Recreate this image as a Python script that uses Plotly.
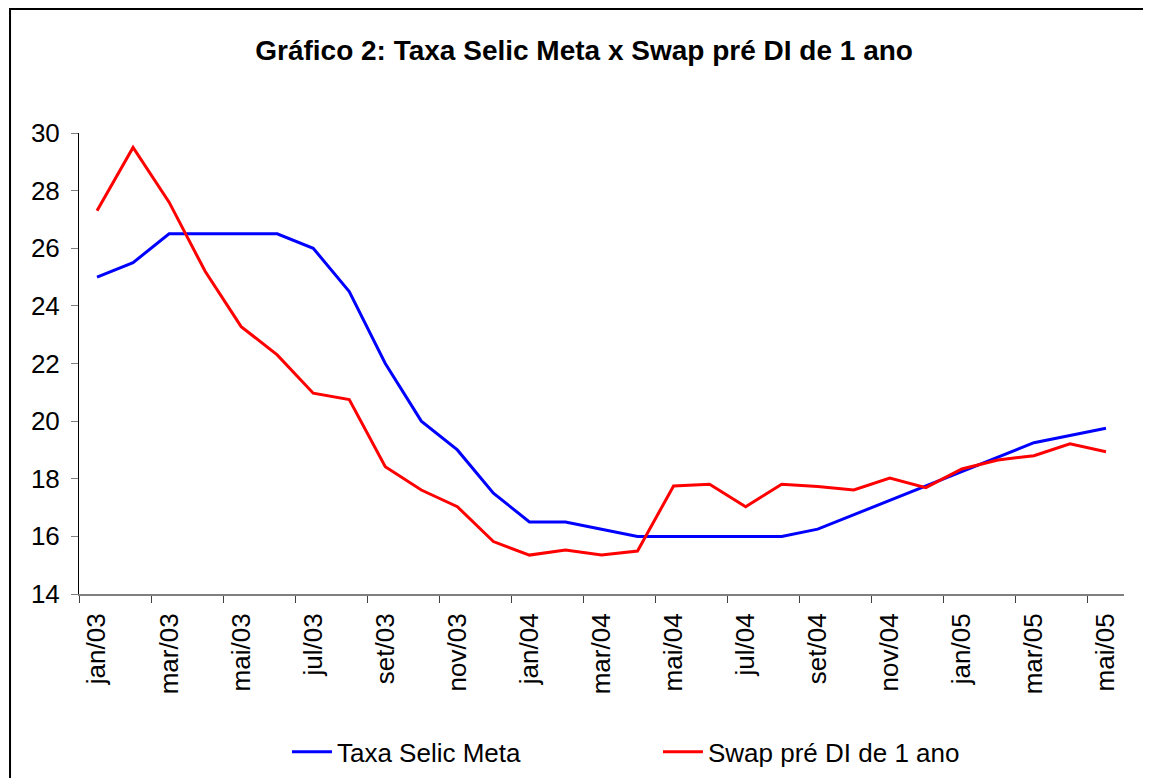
import plotly.graph_objects as go

months = ["jan/03", "fev/03", "mar/03", "abr/03", "mai/03", "jun/03", "jul/03", "ago/03",
          "set/03", "out/03", "nov/03", "dez/03", "jan/04", "fev/04", "mar/04", "abr/04",
          "mai/04", "jun/04", "jul/04", "ago/04", "set/04", "out/04", "nov/04", "dez/04",
          "jan/05", "fev/05", "mar/05", "abr/05", "mai/05"]

selic = [25.0, 25.5, 26.5, 26.5, 26.5, 26.5, 26.0, 24.5, 22.0, 20.0, 19.0, 17.5,
         16.5, 16.5, 16.25, 16.0, 16.0, 16.0, 16.0, 16.0, 16.25, 16.75, 17.25, 17.75,
         18.25, 18.75, 19.25, 19.5, 19.75]

swap = [27.3, 29.5, 27.6, 25.2, 23.28, 22.3, 20.97, 20.75, 18.42, 17.61, 17.03, 15.82,
        15.35, 15.53, 15.35, 15.49, 17.75, 17.81, 17.03, 17.81, 17.73, 17.61, 18.02, 17.69,
        18.34, 18.65, 18.8, 19.21, 18.94]

y_ticks = [14, 16, 18, 20, 22, 24, 26, 28, 30]

x_idx = list(range(len(months)))
label_idx = x_idx[::2]
label_txt = months[::2]
boundaries = [i - 0.5 for i in x_idx[::2]]

fig = go.Figure()
fig.add_trace(go.Scatter(x=x_idx, y=selic, mode="lines", name="Taxa Selic Meta",
                         line=dict(color="#0000FF", width=3)))
fig.add_trace(go.Scatter(x=x_idx, y=swap, mode="lines", name="Swap pré DI de 1 ano",
                         line=dict(color="#FF0000", width=3)))

fig.update_layout(
    width=1143, height=770,
    paper_bgcolor="white", plot_bgcolor="white",
    margin=dict(l=71, r=27, t=125, b=184),
    font=dict(family="Liberation Sans, Arial, sans-serif", color="black", size=26),
    title=dict(text="<b>Gráfico 2: Taxa Selic Meta x Swap pré DI de 1 ano</b>",
               x=0.504, xanchor="center", y=0.9455, yanchor="middle",
               xref="container", yref="container",
               font=dict(size=28, color="black")),
    showlegend=True,
    legend=dict(orientation="h", x=0.199, xanchor="left", xref="paper",
                y=0.0338, yanchor="middle", yref="container",
                font=dict(size=26), entrywidth=316, itemwidth=40, tracegroupgap=0,
                bgcolor="rgba(0,0,0,0)"),
    xaxis=dict(range=[-0.5, len(months) - 0.5], tickmode="array", tickvals=label_idx,
               ticktext=label_txt, tickangle=-90, ticks="", showgrid=False,
               zeroline=False, showline=True, linecolor="#808080", linewidth=2,
               tickfont=dict(size=26), ticklabelstandoff=7, automargin=False,
               minor=dict(tickmode="array", tickvals=boundaries, ticks="outside",
                          ticklen=7, tickcolor="#404040", tickwidth=1, showgrid=False)),
    yaxis=dict(range=[14, 30], tickmode="array", tickvals=y_ticks, ticks="outside",
               ticklen=7, tickcolor="#808080", showgrid=False, zeroline=False,
               showline=True, linecolor="black", linewidth=1, tickfont=dict(size=26),
               ticklabelstandoff=6, automargin=False),
    shapes=[dict(type="rect", xref="paper", yref="paper",
                 x0=-0.066, y0=-0.45, x1=1.1, y1=1.269,
                 line=dict(color="black", width=2), fillcolor="rgba(0,0,0,0)", layer="below")],
)

fig.write_html("out.html")
